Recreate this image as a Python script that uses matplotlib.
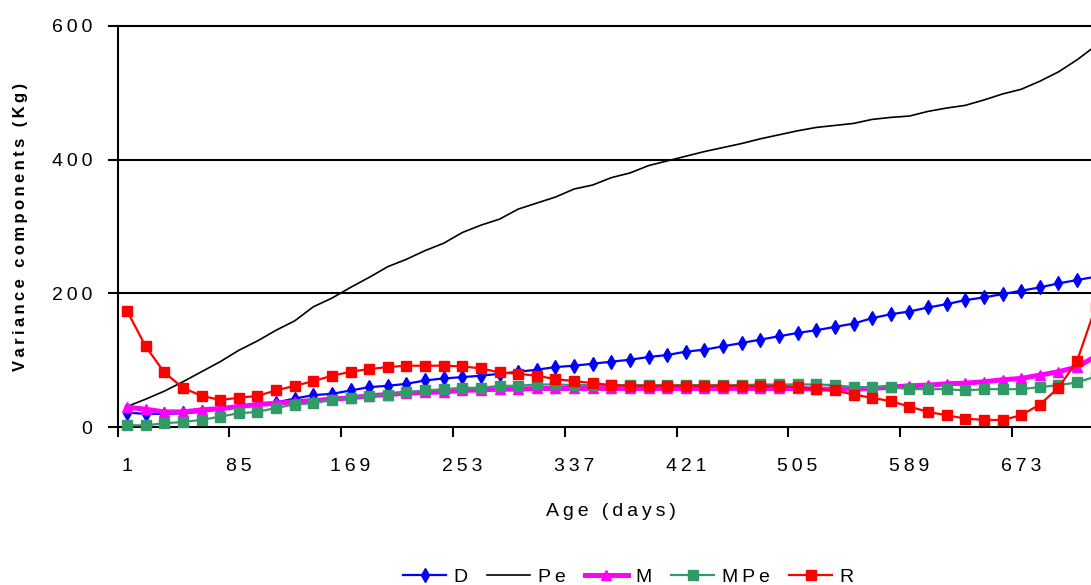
import matplotlib
matplotlib.use("Agg")
import matplotlib.pyplot as plt
from matplotlib.ticker import FixedLocator, NullFormatter

plt.rcParams["font.family"] = ["Liberation Sans", "DejaVu Sans"]

# Age of measurement (days), one record every 14 days
age_days = list(range(1, 730, 14))

# Variance components (Kg)
D = [22, 20, 20, 21, 23, 27, 31, 34, 37, 43, 48, 50, 55, 60, 62, 65, 70, 73,
     75, 77, 80, 83, 86, 90, 92, 95, 98, 101, 105, 108, 113, 116, 121, 126,
     131, 136, 141, 145, 150, 155, 163, 169, 173, 179, 184, 190, 194, 199,
     204, 209, 215, 220, 225]
Pe = [31, 42, 54, 68, 83, 98, 115, 129, 145, 159, 180, 193, 209, 224, 240,
      251, 264, 275, 291, 302, 311, 326, 335, 344, 356, 362, 373, 380, 391,
      398, 405, 412, 418, 424, 431, 437, 443, 448, 451, 454, 460, 463, 465,
      472, 477, 481, 489, 498, 505, 517, 531, 549, 570]
M = [30, 27, 23, 23, 26, 28, 31, 34, 36, 38, 40, 42, 44, 47, 49, 51, 52, 53,
     55, 56, 57, 57, 58, 58, 58, 58, 58, 58, 58, 58, 58, 58, 58, 58, 58, 58,
     58, 57, 57, 57, 58, 60, 62, 63, 65, 66, 68, 71, 73, 78, 83, 90, 106]
MPe = [3, 3, 6, 8, 11, 16, 21, 23, 29, 34, 36, 41, 44, 47, 49, 52, 55, 57,
       59, 59, 62, 62, 64, 64, 63, 63, 63, 63, 63, 63, 63, 63, 63, 63, 64, 64,
       64, 64, 63, 60, 60, 60, 57, 57, 57, 55, 57, 57, 57, 60, 63, 67, 76]
R = [174, 121, 82, 59, 47, 41, 44, 47, 55, 62, 69, 77, 83, 87, 90, 92, 92, 92,
     91, 88, 82, 80, 77, 72, 69, 66, 63, 62, 62, 62, 62, 62, 62, 62, 62, 62,
     60, 57, 55, 49, 44, 39, 31, 23, 18, 13, 11, 11, 18, 34, 59, 99, 180]

x_labels = [1, 85, 169, 253, 337, 421, 505, 589, 673]
y_ticks = [0, 200, 400, 600]

FS = 14


def spaced(text):
    """Wide letter spacing, as in the original report graphics."""
    return "\u2009".join(str(text))


W, H = 1091, 585
fig = plt.figure(figsize=(W / 100, H / 100), dpi=100)
left, right, top, bottom = 117.7, 1105.0, 25.7, 427.3
ax = fig.add_axes([left / W, 1 - bottom / H, (right - left) / W, (bottom - top) / H])

ax.set_xlim(-6, 736)
ax.set_ylim(0, 600)

# horizontal grid lines
for v in y_ticks[1:]:
    ax.axhline(v, color="black", lw=1.5, clip_on=False, zorder=1)

series = [
    ("D", D, dict(color="#0000FF", lw=1.6, marker="d", ms=7)),
    ("Pe", Pe, dict(color="black", lw=1.2)),
    ("M", M, dict(color="#FF00FF", lw=3.6, marker="^", ms=7)),
    ("MPe", MPe, dict(color="#339966", lw=1.6, marker="s", ms=6.5)),
    ("R", R, dict(color="#FF0000", lw=1.6, marker="s", ms=7)),
]
for i, (name, vals, style) in enumerate(series):
    ax.plot(age_days, vals, label=spaced(name), clip_on=False, zorder=3 + i,
            **style)

for side in ("top", "right"):
    ax.spines[side].set_visible(False)
for side in ("left", "bottom"):
    ax.spines[side].set_linewidth(1.5)
    ax.spines[side].set_color("black")

# x axis: tick marks between groups, labels on the group start
ax.xaxis.set_major_locator(FixedLocator([d - 7 for d in x_labels]))
ax.xaxis.set_major_formatter(NullFormatter())
ax.xaxis.set_minor_locator(FixedLocator(x_labels))
ax.set_xticklabels([spaced(v) for v in x_labels], minor=True, fontsize=FS)
ax.tick_params(axis="x", which="major", direction="out", length=7.5, width=1.5)
ax.tick_params(axis="x", which="minor", length=0, pad=22)

ax.set_yticks(y_ticks)
ax.set_yticklabels([spaced(v) for v in y_ticks], fontsize=FS)
ax.tick_params(axis="y", direction="out", length=7.5, width=1.5, pad=11)

fig.text(611 / W, 1 - 511 / H, spaced("Age (days)"), ha="center", va="center",
         fontsize=FS)
fig.text(21 / W, 1 - 227 / H, spaced("Variance components (Kg)"), rotation=90,
         ha="center", va="center", fontsize=12, fontweight="bold")

fig.legend(loc="center", bbox_to_anchor=(628.5 / W, 1 - 577 / H), ncol=5,
           frameon=False, fontsize=FS, handlelength=2.2, handletextpad=0.4,
           columnspacing=1.0, borderaxespad=0, borderpad=0)

fig.savefig("out.png", dpi=100)
